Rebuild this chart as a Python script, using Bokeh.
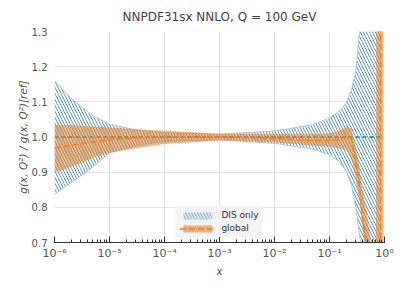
from bokeh.plotting import figure
from bokeh.models import Range1d, Legend, LegendItem, FixedTicker, PrintfTickFormatter
from bokeh.embed import file_html
from bokeh.resources import INLINE

# DIS only (reference fit)
x_dis = [1e-6, 2e-6, 5e-6, 1e-5, 3e-5, 1e-4, 1e-3, 1e-2, 0.05, 0.1, 0.15, 0.2, 0.25, 0.3, 0.35, 0.4, 0.6, 0.85]
dis_hi = [1.16, 1.11, 1.06, 1.037, 1.02, 1.012, 1.008, 1.017, 1.035, 1.054, 1.073, 1.096, 1.134, 1.186, 1.30, 1.45, 2.0, 2.0]
dis_lo = [0.837, 0.87, 0.915, 0.955, 0.975, 0.988, 0.992, 0.982, 0.965, 0.95, 0.931, 0.903, 0.865, 0.80, 0.724, 0.65, 0.0, 0.0]
dis_c = [1.0] * len(x_dis)

# global fit
x_glob = [1e-6, 2e-6, 5e-6, 1e-5, 3e-5, 1e-4, 1e-3, 1e-2, 0.05, 0.1, 0.15, 0.2, 0.25, 0.3, 0.35, 0.4, 0.5, 0.55, 0.65, 0.7, 0.72, 0.84, 0.86, 0.95]
glob_hi = [1.035, 1.034, 1.03, 1.027, 1.022, 1.018, 1.009, 1.009, 1.009, 1.01, 1.018, 1.028, 1.025, 0.97, 0.912, 0.846, 0.76, 0.705, 0.6, 0.55, 3.0, 3.0, 3.0, 3.0]
glob_lo = [0.900, 0.915, 0.94, 0.955, 0.968, 0.98, 0.99, 0.985, 0.975, 0.972, 0.968, 0.964, 0.94, 0.884, 0.818, 0.742, 0.62, 0.58, 0.4, 0.35, -1.0, -1.0, -1.0, -1.0]
glob_c = [0.969, 0.976, 0.986, 0.993, 0.997, 1.0, 1.0, 0.996, 0.99, 0.99, 0.993, 1.002, 0.997, 0.93, 0.856, 0.77, 0.64, 0.58, 0.45, 0.42, 0.41, 0.40, 2.0, 2.5]

# ticks
xtick_vals = [1e-6, 1e-5, 1e-4, 1e-3, 1e-2, 1e-1, 1.0]
xtick_labels = ["10⁻⁶", "10⁻⁵", "10⁻⁴", "10⁻³", "10⁻²", "10⁻¹", "10⁰"]
ytick_vals = [0.7, 0.8, 0.9, 1.0, 1.1, 1.2, 1.3]

FONT = "DejaVu Sans"
BLUE = "#1f77b4"
ORANGE = "#ff7f0e"

p = figure(width=400, height=281, x_axis_type="log",
           x_range=Range1d(1e-6, 1.0), y_range=Range1d(0.7, 1.3),
           output_backend="svg", toolbar_location=None,
           min_border_left=54, min_border_right=16, min_border_bottom=39, min_border_top=30)

p.title.text = "NNPDF31sx NNLO, Q = 100 GeV"
p.title.align = "center"
p.title.text_font = FONT
p.title.text_font_size = "12px"
p.title.text_font_style = "normal"
p.title.text_color = "#444444"
p.title.standoff = 15

# DIS band
r_dis = p.varea(x=x_dis, y1=dis_lo, y2=dis_hi, fill_alpha=0.0,
                hatch_pattern="\\", hatch_color=BLUE, hatch_alpha=0.9,
                hatch_scale=6, hatch_weight=0.8)
p.line(x_dis, dis_hi, line_color="#aec7e8", line_width=1)
p.line(x_dis, dis_lo, line_color="#aec7e8", line_width=1)
r_dis_c = p.line(x_dis, dis_c, line_color=BLUE, line_width=1.3, line_dash="4 3")

# global band
r_glob = p.varea(x=x_glob, y1=glob_lo, y2=glob_hi, fill_color=ORANGE, fill_alpha=0.5,
                 hatch_pattern="\\", hatch_color="#7f7f7f", hatch_alpha=0.45,
                 hatch_scale=5, hatch_weight=0.8)
r_glob_c = p.line(x_glob, glob_c, line_color=ORANGE, line_width=1.5, line_dash="6 3")

legend = Legend(items=[LegendItem(label="DIS only", renderers=[r_dis]),
                       LegendItem(label="global", renderers=[r_glob, r_glob_c])],
                location="bottom_center", margin=5, padding=4, spacing=3,
                glyph_width=36, glyph_height=9, label_standoff=6,
                label_text_font=FONT, label_text_font_size="9px", label_text_color="#333333",
                background_fill_color="#f2f2f2", background_fill_alpha=0.9,
                border_line_alpha=0.0)
p.add_layout(legend, "center")

# styling
p.outline_line_color = None
p.xgrid.grid_line_color = "#e3e3e3"
p.ygrid.grid_line_color = "#e3e3e3"
p.xgrid.grid_line_width = 1
p.ygrid.grid_line_width = 1

p.yaxis.ticker = FixedTicker(ticks=ytick_vals)
p.yaxis.formatter = PrintfTickFormatter(format="%.1f")
p.yaxis.axis_line_color = None
p.yaxis.major_tick_line_color = None
p.yaxis.minor_tick_line_color = None
p.yaxis.major_tick_out = 0
p.yaxis.minor_tick_out = 0
p.yaxis.major_label_text_font = FONT
p.yaxis.major_label_text_font_size = "10px"
p.yaxis.major_label_text_color = "#555555"
p.yaxis.axis_label = "g(x, Q²) / g(x, Q²)[ref]"
p.yaxis.axis_label_text_font = FONT
p.yaxis.axis_label_text_font_size = "10.5px"
p.yaxis.axis_label_text_font_style = "italic"
p.yaxis.axis_label_text_color = "#555555"
p.yaxis.axis_label_standoff = 0
p.yaxis.major_label_standoff = 7

p.xaxis.major_label_overrides = dict(zip(xtick_vals, xtick_labels))
p.xaxis.axis_line_color = "#333333"
p.xaxis.major_tick_line_color = "#333333"
p.xaxis.minor_tick_line_color = "#333333"
p.xaxis.major_tick_in = 6
p.xaxis.major_tick_out = 0
p.xaxis.minor_tick_in = 3
p.xaxis.minor_tick_out = 0
p.xaxis.major_label_text_font = FONT
p.xaxis.major_label_text_font_size = "11px"
p.xaxis.major_label_text_color = "#555555"
p.xaxis.major_label_standoff = 4
p.xaxis.axis_label = "x"
p.xaxis.axis_label_text_font = FONT
p.xaxis.axis_label_text_font_size = "10px"
p.xaxis.axis_label_text_font_style = "italic"
p.xaxis.axis_label_text_color = "#555555"
p.xaxis.axis_label_standoff = 3

open("out.html", "w").write(file_html(p, INLINE))
